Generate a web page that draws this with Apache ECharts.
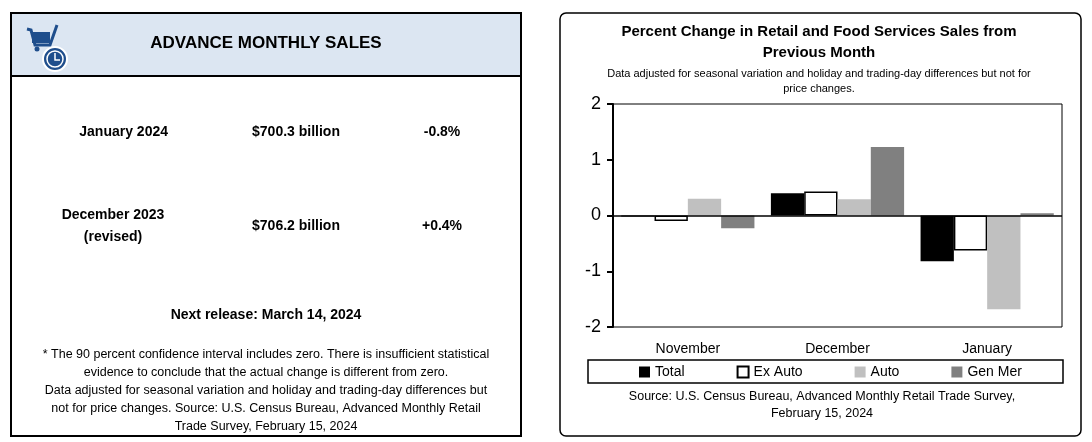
<!DOCTYPE html>
<html><head><meta charset="utf-8">
<script src="https://cdn.jsdelivr.net/npm/echarts@6/dist/echarts.min.js"></script>
<style>html,body{margin:0;padding:0;background:#fff}#c{width:1092px;height:442px}</style>
</head><body><div id="c"></div>
<script>
const categories = ['November','December','January'];
const total = [-0.02, 0.40, -0.82];
const exAuto = [-0.10, 0.43, -0.63];
const auto = [0.30, 0.29, -1.68];
const genMer = [-0.23, 1.23, 0.04];
const yTicks = [-2,-1,0,1,2];

const F = 'Liberation Sans, Arial, sans-serif';
const chart = echarts.init(document.getElementById('c'));
const t = (x,y,text,opt={}) => ({type:'text',x:x,y:y,style:Object.assign({text:text,x:0,y:0,fill:'#000',font:(opt.w||'normal')+' '+(opt.s||14)+'px '+F,textAlign:opt.a||'center',textVerticalAlign:'middle'},opt.st||{})});
const foot = ['* The 90 percent confidence interval includes zero. There is insufficient statistical',
 'evidence to conclude that the actual change is different from zero.',
 'Data adjusted for seasonal variation and holiday and trading-day differences but',
 'not for price changes. Source: U.S. Census Bureau, Advanced Monthly Retail',
 'Trade Survey, February 15, 2024'];
const graphics = [
 {type:'rect',shape:{x:11,y:13,width:510,height:423},style:{fill:'#fff',stroke:'#000',lineWidth:2}},
 {type:'rect',shape:{x:11,y:13,width:510,height:63},style:{fill:'#dce6f2',stroke:'#000',lineWidth:2}},
 {type:'polyline',shape:{points:[[27,29],[31,30],[35,45],[50,45],[57,25]]},style:{stroke:'#1f4e8c',lineWidth:3,fill:null}},
 {type:'rect',shape:{x:32,y:32,width:18,height:11},style:{fill:'#1f4e8c'}},
 {type:'circle',shape:{cx:37,cy:49,r:2.5},style:{fill:'#1f4e8c'}},
 {type:'circle',shape:{cx:55,cy:59,r:12},style:{fill:'#1f4e8c',stroke:'#fff',lineWidth:2}},
 {type:'circle',shape:{cx:55,cy:59,r:8},style:{fill:'none',stroke:'#fff',lineWidth:1.5}},
 {type:'polyline',shape:{points:[[55,53],[55,60],[60,60]]},style:{stroke:'#fff',lineWidth:1.5,fill:null}},
 t(266,43,'ADVANCE MONTHLY SALES',{w:'bold',s:17}),
 t(168,132,'January 2024',{w:'bold',a:'right'}),
 t(296,132,'$700.3 billion',{w:'bold'}),
 t(442,132,'-0.8%',{w:'bold'}),
 t(113,215,'December 2023',{w:'bold'}),
 t(113,237,'(revised)',{w:'bold'}),
 t(296,226,'$706.2 billion',{w:'bold'}),
 t(442,226,'+0.4%',{w:'bold'}),
 t(266,315,'Next release: March 14, 2024',{w:'bold'}),
 ...foot.map((s,i)=>t(266,355+i*18,s,{s:12.5})),
 {type:'rect',shape:{x:560,y:13,width:521,height:423,r:6},style:{fill:null,stroke:'#000',lineWidth:1.5}},
 t(819,32,'Percent Change in Retail and Food Services Sales from',{w:'bold',s:15}),
 t(819,53,'Previous Month',{w:'bold',s:15}),
 t(819,74,'Data adjusted for seasonal variation and holiday and trading-day differences but not for',{s:11}),
 t(819,89,'price changes.',{s:11}),
 {type:'rect',shape:{x:588,y:360,width:475,height:23},style:{fill:null,stroke:'#000',lineWidth:1.5}},
 t(822,397,'Source: U.S. Census Bureau, Advanced Monthly Retail Trade Survey,',{s:12.5}),
 t(822,414,'February 15, 2024',{s:12.5})
];
const mk = (name,data,color,border) => ({name:name,type:'bar',data:data,barGap:'0%',barCategoryGap:'11%',
  itemStyle:{color:color,borderColor:border||color,borderWidth:border?1.5:0},silent:true});
chart.setOption({
 animation:false,
 graphic:{elements:graphics},
 grid:{left:613,right:30,top:104,bottom:115,show:true,borderColor:'#000',borderWidth:1,backgroundColor:'transparent'},
 legend:{left:634,top:360,icon:'rect',itemWidth:11,itemHeight:11,itemGap:52,textStyle:{fontFamily:F,fontSize:14,color:'#000'},
   data:['Total','Ex Auto','Auto','Gen Mer']},
 xAxis:{type:'category',data:categories,axisLine:{show:false},axisTick:{show:false},
   axisLabel:{fontFamily:F,fontSize:14,color:'#000',margin:15}},
 yAxis:{type:'value',min:-2,max:2,interval:1,axisLine:{show:true,lineStyle:{color:'#000',width:2}},
   axisTick:{show:true,length:6,lineStyle:{color:'#000',width:2}},splitLine:{show:false},
   axisLabel:{fontFamily:F,fontSize:18,color:'#000',margin:12}},
 series:[
  Object.assign(mk('Total',total,'#000'),{markLine:{silent:true,symbol:'none',label:{show:false},lineStyle:{color:'#000',width:1.5,type:'solid'},data:[{yAxis:0}]}}),
  mk('Ex Auto',exAuto,'#fff','#000'),
  mk('Auto',auto,'#c0c0c0'),
  mk('Gen Mer',genMer,'#808080')
 ]
});
</script></body></html>
